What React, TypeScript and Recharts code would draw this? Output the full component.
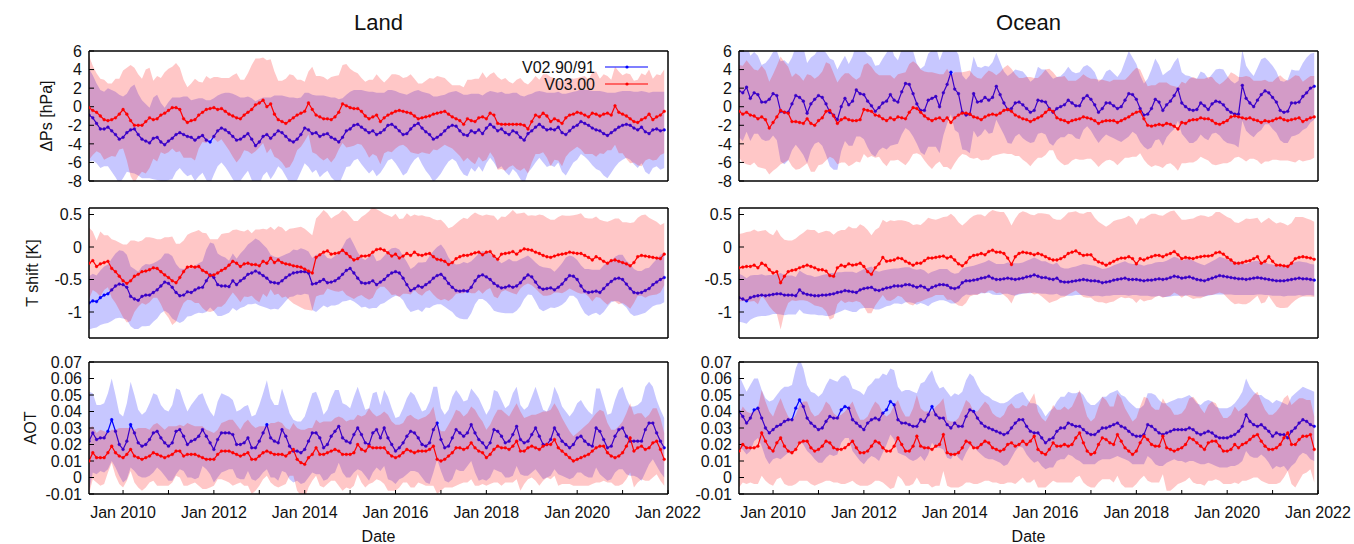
import React from 'react';
import { ComposedChart, Area, Line, XAxis, YAxis } from 'recharts';

// monthly samples, Apr 2009 .. Dec 2021
const START_YEAR = 2009.25;
const END_YEAR = 2022;
const YEAR_TICKS = [2010, 2011, 2012, 2013, 2014, 2015, 2016, 2017, 2018, 2019, 2020, 2021, 2022];

const PS_TICKS = [-8, -6, -4, -2, 0, 2, 4, 6];
const T_TICKS = [-1, -0.5, 0, 0.5];
const AOT_TICKS = [-0.01, 0, 0.01, 0.02, 0.03, 0.04, 0.05, 0.06, 0.07];

// ---- Land, surface pressure offset [hPa]
const landPsV2 = [
  -0.9, -1.2, -1.8, -2.4, -2.4, -2.2, -2.6, -3.0, -3.5,
  -3.3, -2.8, -2.5, -2.4, -3.0, -3.5, -3.7, -3.9, -3.4, -3.3, -3.8, -4.1,
  -3.7, -3.4, -3.0, -2.8, -3.0, -3.2, -3.3, -3.6, -3.3, -3.1, -3.6, -3.8,
  -3.2, -2.6, -2.3, -2.5, -2.8, -3.2, -3.6, -3.5, -3.2, -2.9, -3.5, -4.2,
  -3.8, -3.2, -3.0, -3.4, -3.0, -2.6, -2.8, -3.2, -3.6, -3.8, -3.5, -3.0,
  -2.3, -2.5, -2.9, -2.8, -3.2, -3.0, -2.9, -3.3, -3.5, -3.8, -3.3, -2.6,
  -2.4, -2.0, -1.9, -2.2, -2.5, -2.8, -2.6, -3.0, -2.8, -2.5, -2.0, -1.9,
  -2.2, -2.6, -3.0, -2.9, -2.4, -2.0, -1.8, -2.3, -2.7, -3.0, -3.5, -3.3,
  -3.0, -2.6, -2.2, -2.0, -2.1, -2.6, -3.0, -3.1, -2.6, -2.8, -2.5, -2.9,
  -2.3, -1.9, -2.2, -2.6, -2.4, -2.8, -3.0, -2.6, -2.8, -3.3, -3.6, -2.9,
  -2.6, -2.2, -1.9, -2.2, -2.5, -2.4, -2.5, -2.2, -2.8, -3.0, -2.6, -2.2,
  -2.0, -1.6, -1.8, -2.0, -2.3, -2.5, -2.6, -2.9, -3.1, -2.8, -2.5, -2.2,
  -2.0, -1.9, -2.0, -2.3, -2.5, -2.2, -2.7, -2.9, -2.5, -2.4, -2.6, -2.5,
];
const landPsV2Sd = [
  5.0, 4.6, 4.3, 4.2, 4.0, 4.2, 4.4, 4.6, 4.8,
  4.4, 4.2, 4.6, 4.8, 4.4, 4.2, 4.0, 3.8, 4.4, 4.6, 4.2, 4.0,
  4.2, 4.4, 4.0, 3.8, 4.1, 4.3, 4.0, 4.4, 4.2, 4.0, 4.3, 4.5,
  4.1, 3.8, 3.7, 4.0, 4.3, 4.6, 4.8, 4.5, 4.2, 4.0, 4.4, 4.8,
  4.6, 4.2, 4.0, 4.4, 4.2, 3.8, 4.0, 4.3, 4.6, 4.8, 4.4, 4.0,
  3.8, 4.0, 4.2, 4.0, 4.4, 4.2, 4.0, 4.3, 4.5, 4.6, 4.2, 3.9,
  4.0, 3.8, 3.7, 4.0, 4.2, 4.4, 4.2, 4.5, 4.3, 4.0, 3.8, 3.7,
  3.9, 4.1, 4.4, 4.2, 3.9, 3.7, 3.6, 3.9, 4.2, 4.4, 4.6, 4.4,
  4.2, 3.9, 3.7, 3.6, 3.8, 4.1, 4.3, 4.4, 4.0, 4.2, 3.9, 4.1,
  3.8, 3.6, 3.8, 4.1, 4.0, 4.2, 4.4, 4.1, 4.3, 4.5, 4.7, 4.2,
  4.0, 3.8, 3.6, 3.8, 4.0, 3.9, 4.0, 3.8, 4.2, 4.4, 4.1, 3.8,
  3.7, 3.5, 3.6, 3.8, 4.0, 4.2, 4.3, 4.5, 4.6, 4.3, 4.0, 3.8,
  3.7, 3.6, 3.7, 3.9, 4.1, 3.9, 4.3, 4.4, 4.1, 4.0, 4.2, 4.1,
];
const landPsV3 = [
  -0.1, -0.4, -0.6, -1.0, -1.4, -1.5, -1.4, -1.2, -0.8,
  -0.3, -0.8, -1.5, -2.0, -2.0, -2.0, -1.6, -1.2, -1.4, -1.3, -0.9, -0.7,
  -0.4, -0.1, -0.1, -0.3, -1.3, -1.7, -1.5, -1.4, -0.9, -0.6, -0.3, -0.2,
  -0.1, -0.3, -0.2, -0.5, -0.8, -1.0, -1.2, -1.3, -0.9, -0.6, -0.3, 0.2,
  0.4, 0.7, 0.0, 0.3, -0.8, -1.4, -1.6, -1.8, -1.5, -1.2, -0.9, -0.7,
  -0.5, 0.4, -0.3, -0.9, -1.1, -1.3, -1.3, -1.4, -1.1, -0.6, 0.3, 0.1,
  -0.1, -0.2, -0.2, -0.5, -1.0, -1.3, -1.1, -0.9, -1.6, -1.2, -0.9, -0.7,
  -0.5, -0.4, -0.5, -0.6, -0.7, -1.0, -1.3, -1.2, -1.1, -1.0, -0.8, -0.7,
  -0.6, -0.5, -0.8, -1.1, -1.3, -1.5, -1.9, -1.3, -1.5, -1.6, -1.2, -1.1,
  -1.3, -0.7, -0.9, -1.8, -1.9, -1.9, -1.9, -1.9, -1.9, -1.9, -2.0, -2.4,
  -1.6, -0.9, -1.1, -0.7, -1.0, -1.6, -1.3, -1.5, -1.8, -1.2, -0.9, -0.8,
  -0.6, -0.7, -0.9, -1.1, -0.7, -0.8, -1.0, -0.8, -0.7, -0.9, 0.1, -0.6,
  -0.8, -1.0, -1.3, -1.6, -1.7, -1.4, -1.2, -0.8, -1.4, -1.1, -0.9, -0.5,
];
const landPsV3Sd = [
  5.6, 4.8, 4.2, 4.0, 4.3, 4.0, 3.9, 4.2, 3.8,
  4.2, 5.0, 6.0, 6.2, 5.5, 5.0, 5.6, 5.4, 4.2, 4.6, 4.0, 4.4,
  4.5, 4.4, 4.8, 4.5, 4.2, 3.8, 4.0, 4.4, 3.6, 3.2, 3.6, 3.2,
  3.3, 3.5, 3.3, 3.6, 3.9, 4.4, 4.8, 4.2, 3.8, 4.2, 4.8, 5.0,
  4.8, 4.6, 5.0, 4.8, 4.6, 4.2, 4.4, 4.8, 5.0, 4.6, 3.8, 3.6,
  3.2, 3.4, 4.6, 4.2, 4.4, 4.5, 4.2, 4.6, 4.4, 4.0, 4.2, 4.5,
  4.2, 4.0, 3.8, 3.6, 3.7, 4.2, 4.0, 4.4, 4.6, 3.8, 3.9, 4.2,
  4.0, 3.8, 3.6, 3.8, 4.2, 4.0, 3.8, 3.7, 3.9, 4.1, 3.8, 4.0,
  3.8, 3.6, 3.5, 3.4, 3.6, 3.8, 4.0, 4.2, 4.4, 4.6, 4.2, 4.8,
  4.4, 4.2, 4.6, 5.0, 4.8, 5.0, 4.6, 4.4, 4.8, 5.0, 4.6, 4.8,
  4.4, 4.2, 4.0, 4.2, 4.5, 4.8, 4.4, 4.3, 4.6, 4.2, 4.0, 3.8,
  3.7, 3.9, 4.2, 4.0, 4.4, 4.6, 4.0, 4.3, 4.0, 3.8, 4.2, 4.4,
  4.2, 4.6, 4.8, 4.4, 4.6, 5.0, 4.6, 4.8, 4.4, 4.6, 4.3, 4.5,
];

// ---- Land, temperature shift [K]
const landTV2 = [
  -0.86, -0.83, -0.84, -0.78, -0.74, -0.72, -0.66, -0.60, -0.57,
  -0.58, -0.62, -0.76, -0.80, -0.82, -0.76, -0.74, -0.74, -0.70, -0.66, -0.60, -0.54,
  -0.56, -0.62, -0.70, -0.75, -0.74, -0.69, -0.70, -0.66, -0.63, -0.62, -0.52, -0.43,
  -0.47, -0.58, -0.60, -0.60, -0.61, -0.52, -0.58, -0.52, -0.48, -0.42, -0.40, -0.37,
  -0.40, -0.44, -0.48, -0.54, -0.55, -0.56, -0.52, -0.47, -0.43, -0.40, -0.39, -0.38,
  -0.38, -0.40, -0.57, -0.56, -0.53, -0.50, -0.55, -0.54, -0.52, -0.48, -0.42, -0.36,
  -0.33, -0.40, -0.48, -0.55, -0.56, -0.55, -0.52, -0.58, -0.54, -0.50, -0.44, -0.40,
  -0.38, -0.40, -0.48, -0.58, -0.67, -0.64, -0.60, -0.62, -0.58, -0.54, -0.48, -0.44,
  -0.42, -0.48, -0.56, -0.62, -0.67, -0.68, -0.67, -0.68, -0.62, -0.52, -0.45, -0.43,
  -0.46, -0.50, -0.56, -0.60, -0.63, -0.62, -0.60, -0.62, -0.60, -0.55, -0.48, -0.43,
  -0.46, -0.54, -0.62, -0.65, -0.64, -0.63, -0.66, -0.62, -0.57, -0.50, -0.44, -0.45,
  -0.50, -0.60, -0.68, -0.70, -0.69, -0.68, -0.70, -0.64, -0.58, -0.53, -0.49, -0.48,
  -0.50, -0.57, -0.64, -0.70, -0.71, -0.70, -0.67, -0.64, -0.58, -0.54, -0.50, -0.47,
];
const landTV2Sd = [
  0.41, 0.42, 0.40, 0.42, 0.44, 0.45, 0.48, 0.50, 0.52,
  0.52, 0.50, 0.46, 0.46, 0.44, 0.46, 0.48, 0.47, 0.45, 0.44, 0.42, 0.44,
  0.46, 0.48, 0.44, 0.42, 0.40, 0.38, 0.36, 0.37, 0.38, 0.40, 0.48, 0.50,
  0.52, 0.48, 0.46, 0.44, 0.40, 0.42, 0.40, 0.42, 0.44, 0.46, 0.48, 0.50,
  0.50, 0.48, 0.46, 0.42, 0.40, 0.40, 0.38, 0.36, 0.34, 0.36, 0.34, 0.36,
  0.34, 0.33, 0.40, 0.44, 0.42, 0.40, 0.38, 0.36, 0.38, 0.40, 0.42, 0.47,
  0.48, 0.44, 0.40, 0.38, 0.36, 0.40, 0.42, 0.36, 0.34, 0.36, 0.38, 0.38,
  0.37, 0.36, 0.34, 0.35, 0.33, 0.34, 0.36, 0.38, 0.35, 0.40, 0.42, 0.44,
  0.46, 0.44, 0.40, 0.38, 0.40, 0.42, 0.44, 0.43, 0.40, 0.36, 0.35, 0.37,
  0.38, 0.40, 0.42, 0.40, 0.38, 0.40, 0.42, 0.40, 0.38, 0.36, 0.32, 0.30,
  0.28, 0.30, 0.33, 0.34, 0.32, 0.30, 0.28, 0.30, 0.32, 0.34, 0.31, 0.30,
  0.30, 0.32, 0.34, 0.36, 0.34, 0.33, 0.35, 0.36, 0.34, 0.32, 0.34, 0.36,
  0.38, 0.36, 0.38, 0.36, 0.34, 0.33, 0.34, 0.32, 0.33, 0.35, 0.38, 0.38,
];
const landTV3 = [
  -0.25, -0.21, -0.30, -0.26, -0.24, -0.22, -0.33, -0.38, -0.45,
  -0.52, -0.56, -0.52, -0.45, -0.42, -0.38, -0.37, -0.35, -0.32, -0.33, -0.38, -0.43,
  -0.47, -0.52, -0.55, -0.47, -0.38, -0.31, -0.30, -0.31, -0.30, -0.36, -0.39, -0.44,
  -0.43, -0.40, -0.36, -0.33, -0.28, -0.22, -0.25, -0.30, -0.26, -0.25, -0.27, -0.27,
  -0.29, -0.22, -0.25, -0.17, -0.24, -0.20, -0.24, -0.26, -0.27, -0.29, -0.30, -0.31,
  -0.34, -0.37, -0.40, -0.16, -0.12, -0.08, -0.06, -0.11, -0.10, -0.09, -0.05, -0.10,
  -0.15, -0.20, -0.18, -0.14, -0.14, -0.13, -0.08, -0.04, -0.03, -0.05, -0.09, -0.14,
  -0.11, -0.17, -0.14, -0.10, -0.13, -0.08, -0.12, -0.13, -0.11, -0.10, -0.15, -0.19,
  -0.20, -0.22, -0.27, -0.24, -0.18, -0.15, -0.13, -0.13, -0.11, -0.09, -0.08, -0.12,
  -0.08, -0.07, -0.14, -0.19, -0.11, -0.10, -0.09, -0.07, -0.11, -0.06, -0.03, -0.04,
  -0.05, -0.08, -0.10, -0.13, -0.15, -0.16, -0.14, -0.12, -0.11, -0.10, -0.08, -0.09,
  -0.10, -0.10, -0.13, -0.16, -0.20, -0.15, -0.18, -0.22, -0.25, -0.21, -0.20, -0.22,
  -0.24, -0.26, -0.29, -0.24, -0.15, -0.13, -0.14, -0.15, -0.16, -0.17, -0.18, -0.11,
];
const landTV3Sd = [
  0.55, 0.45, 0.40, 0.50, 0.42, 0.40, 0.45, 0.48, 0.52,
  0.56, 0.60, 0.62, 0.55, 0.50, 0.48, 0.52, 0.50, 0.46, 0.45, 0.50, 0.58,
  0.62, 0.68, 0.60, 0.52, 0.48, 0.50, 0.52, 0.55, 0.56, 0.58, 0.60, 0.56,
  0.55, 0.52, 0.56, 0.54, 0.50, 0.48, 0.52, 0.55, 0.50, 0.52, 0.48, 0.54,
  0.56, 0.50, 0.52, 0.48, 0.50, 0.52, 0.54, 0.50, 0.55, 0.58, 0.60, 0.62,
  0.62, 0.60, 0.58, 0.60, 0.62, 0.65, 0.58, 0.55, 0.58, 0.60, 0.62, 0.64,
  0.62, 0.60, 0.58, 0.60, 0.64, 0.68, 0.70, 0.62, 0.58, 0.56, 0.58, 0.60,
  0.62, 0.60, 0.58, 0.62, 0.60, 0.58, 0.60, 0.62, 0.58, 0.56, 0.58, 0.60,
  0.62, 0.58, 0.56, 0.55, 0.54, 0.56, 0.58, 0.56, 0.60, 0.62, 0.58, 0.60,
  0.58, 0.56, 0.62, 0.60, 0.58, 0.56, 0.60, 0.64, 0.62, 0.58, 0.56, 0.52,
  0.54, 0.56, 0.60, 0.62, 0.60, 0.58, 0.56, 0.58, 0.60, 0.58, 0.56, 0.58,
  0.60, 0.62, 0.58, 0.60, 0.64, 0.62, 0.60, 0.62, 0.64, 0.62, 0.64, 0.66,
  0.62, 0.64, 0.66, 0.62, 0.60, 0.62, 0.64, 0.60, 0.58, 0.56, 0.52, 0.48,
];

// ---- Land, aerosol optical thickness
const landAotV2 = [
  0.022, 0.027, 0.023, 0.024, 0.024, 0.028, 0.035, 0.028, 0.020,
  0.017, 0.022, 0.032, 0.027, 0.021, 0.019, 0.020, 0.023, 0.027, 0.028, 0.024, 0.021,
  0.019, 0.021, 0.028, 0.029, 0.025, 0.020, 0.022, 0.023, 0.025, 0.029, 0.025, 0.021,
  0.017, 0.023, 0.027, 0.027, 0.027, 0.026, 0.020, 0.020, 0.021, 0.024, 0.018, 0.018,
  0.022, 0.027, 0.032, 0.024, 0.022, 0.021, 0.029, 0.025, 0.019, 0.016, 0.016, 0.015,
  0.017, 0.022, 0.027, 0.027, 0.024, 0.018, 0.020, 0.025, 0.028, 0.031, 0.024, 0.022,
  0.021, 0.026, 0.030, 0.026, 0.021, 0.020, 0.027, 0.029, 0.024, 0.030, 0.024, 0.020,
  0.016, 0.018, 0.021, 0.025, 0.028, 0.027, 0.024, 0.020, 0.019, 0.021, 0.029, 0.033,
  0.023, 0.018, 0.019, 0.024, 0.029, 0.027, 0.025, 0.027, 0.032, 0.027, 0.023, 0.021,
  0.018, 0.021, 0.029, 0.028, 0.025, 0.021, 0.022, 0.026, 0.031, 0.023, 0.021, 0.022,
  0.026, 0.030, 0.025, 0.020, 0.020, 0.023, 0.030, 0.026, 0.022, 0.020, 0.018, 0.020,
  0.024, 0.025, 0.022, 0.020, 0.019, 0.030, 0.028, 0.023, 0.018, 0.019, 0.025, 0.029,
  0.030, 0.025, 0.022, 0.022, 0.022, 0.022, 0.029, 0.033, 0.033, 0.027, 0.022, 0.018,
];
const landAotV2Sd = [
  0.030, 0.024, 0.021, 0.020, 0.021, 0.023, 0.025, 0.022, 0.019,
  0.020, 0.023, 0.026, 0.023, 0.020, 0.019, 0.020, 0.022, 0.024, 0.022, 0.020, 0.020,
  0.021, 0.023, 0.026, 0.024, 0.021, 0.020, 0.022, 0.024, 0.025, 0.022, 0.020, 0.019,
  0.020, 0.023, 0.024, 0.023, 0.022, 0.021, 0.020, 0.021, 0.022, 0.020, 0.019, 0.020,
  0.022, 0.024, 0.027, 0.024, 0.022, 0.023, 0.025, 0.022, 0.020, 0.019, 0.018, 0.019,
  0.020, 0.022, 0.024, 0.025, 0.022, 0.020, 0.021, 0.023, 0.025, 0.022, 0.021, 0.022,
  0.021, 0.023, 0.025, 0.022, 0.020, 0.022, 0.024, 0.023, 0.020, 0.023, 0.025, 0.022,
  0.020, 0.019, 0.021, 0.023, 0.024, 0.023, 0.021, 0.020, 0.022, 0.025, 0.026, 0.022,
  0.019, 0.020, 0.022, 0.025, 0.024, 0.023, 0.021, 0.020, 0.022, 0.024, 0.025, 0.022,
  0.020, 0.021, 0.024, 0.024, 0.022, 0.021, 0.022, 0.025, 0.024, 0.021, 0.020, 0.021,
  0.023, 0.025, 0.023, 0.021, 0.020, 0.022, 0.025, 0.024, 0.021, 0.020, 0.019, 0.020,
  0.021, 0.022, 0.021, 0.020, 0.019, 0.024, 0.026, 0.023, 0.020, 0.020, 0.022, 0.024,
  0.025, 0.023, 0.021, 0.021, 0.022, 0.024, 0.026, 0.025, 0.022, 0.020, 0.019, 0.018,
];
const landAotV3 = [
  0.010, 0.015, 0.012, 0.012, 0.012, 0.015, 0.019, 0.015, 0.013,
  0.012, 0.014, 0.017, 0.013, 0.012, 0.011, 0.012, 0.013, 0.015, 0.014, 0.013, 0.012,
  0.013, 0.014, 0.016, 0.016, 0.013, 0.014, 0.014, 0.014, 0.013, 0.012, 0.011, 0.011,
  0.011, 0.014, 0.016, 0.016, 0.016, 0.015, 0.014, 0.013, 0.014, 0.015, 0.011, 0.011,
  0.013, 0.015, 0.016, 0.015, 0.014, 0.014, 0.014, 0.013, 0.015, 0.017, 0.011, 0.009,
  0.008, 0.012, 0.014, 0.018, 0.014, 0.014, 0.015, 0.016, 0.017, 0.016, 0.014, 0.014,
  0.014, 0.015, 0.020, 0.017, 0.016, 0.019, 0.018, 0.018, 0.018, 0.018, 0.015, 0.013,
  0.012, 0.013, 0.015, 0.017, 0.016, 0.015, 0.016, 0.016, 0.016, 0.017, 0.019, 0.011,
  0.010, 0.011, 0.013, 0.015, 0.018, 0.018, 0.017, 0.018, 0.021, 0.018, 0.016, 0.015,
  0.012, 0.014, 0.017, 0.019, 0.018, 0.018, 0.017, 0.019, 0.022, 0.016, 0.016, 0.018,
  0.019, 0.018, 0.017, 0.019, 0.020, 0.020, 0.023, 0.018, 0.016, 0.014, 0.012, 0.010,
  0.011, 0.012, 0.013, 0.014, 0.016, 0.018, 0.019, 0.019, 0.015, 0.013, 0.012, 0.013,
  0.015, 0.019, 0.024, 0.016, 0.018, 0.019, 0.017, 0.018, 0.021, 0.022, 0.017, 0.011,
];
const landAotV3Sd = [
  0.020, 0.016, 0.015, 0.017, 0.016, 0.012, 0.010, 0.014, 0.017,
  0.018, 0.016, 0.013, 0.016, 0.018, 0.019, 0.018, 0.016, 0.017, 0.019, 0.018, 0.017,
  0.018, 0.017, 0.015, 0.016, 0.018, 0.019, 0.018, 0.017, 0.018, 0.019, 0.018, 0.017,
  0.016, 0.015, 0.017, 0.018, 0.019, 0.020, 0.018, 0.016, 0.019, 0.020, 0.021, 0.019,
  0.018, 0.016, 0.015, 0.018, 0.019, 0.020, 0.019, 0.017, 0.014, 0.016, 0.019, 0.020,
  0.021, 0.018, 0.016, 0.017, 0.019, 0.020, 0.019, 0.018, 0.019, 0.021, 0.022, 0.020,
  0.021, 0.020, 0.018, 0.020, 0.022, 0.023, 0.021, 0.019, 0.020, 0.022, 0.023, 0.021,
  0.020, 0.019, 0.018, 0.020, 0.022, 0.021, 0.019, 0.020, 0.021, 0.022, 0.024, 0.021,
  0.018, 0.017, 0.019, 0.021, 0.023, 0.022, 0.020, 0.021, 0.022, 0.023, 0.021, 0.019,
  0.017, 0.018, 0.020, 0.022, 0.023, 0.021, 0.020, 0.022, 0.023, 0.024, 0.020, 0.019,
  0.019, 0.020, 0.022, 0.021, 0.020, 0.021, 0.022, 0.023, 0.020, 0.018, 0.016, 0.015,
  0.016, 0.017, 0.018, 0.019, 0.020, 0.021, 0.022, 0.021, 0.018, 0.016, 0.017, 0.018,
  0.019, 0.020, 0.021, 0.022, 0.021, 0.020, 0.019, 0.020, 0.021, 0.020, 0.019, 0.016,
];

// ---- Ocean, surface pressure offset [hPa]
const oceanPsV2 = [
  1.7, 1.5, 2.1, 0.9, 1.5, 1.3, 0.5, 0.5, 0.8,
  1.4, 1.2, -0.5, -0.6, -0.6, 0.3, 1.2, 1.0, 0.6, -0.7, 0.3, 0.8,
  1.2, 1.0, 0.3, -0.6, -0.9, -1.4, 0.0, 0.9, 0.2, 0.6, 1.8, 1.4,
  1.3, 0.6, 0.1, -0.5, -0.1, 0.4, 0.6, 1.3, 0.7, 0.5, 1.6, 2.5,
  2.4, 1.4, 0.3, -0.4, -0.4, 0.7, 0.9, 1.1, 0.0, 1.5, 2.4, 3.7,
  1.9, 1.4, -0.6, -0.9, -0.8, 1.4, 0.5, 0.6, 1.0, 0.7, 1.0, 2.2,
  1.3, 0.4, -0.3, -0.2, 0.4, 0.5, 0.2, -0.2, -0.6, -0.4, 0.7, 0.6,
  0.5, -0.2, -0.6, -0.2, 0.0, 0.2, 0.7, 0.4, 0.1, 0.1, 0.9, 1.2,
  0.8, 0.2, -0.6, -0.2, 0.4, 0.4, 0.1, -0.2, 0.0, 0.7, 1.4, 1.3,
  0.8, -0.2, -0.9, -0.8, -0.2, 0.8, 0.5, -0.4, 0.2, 0.6, 1.2, 1.9,
  0.4, 0.0, -0.3, -0.4, -0.3, 0.4, 0.1, -0.3, 0.3, 0.6, 0.5, 0.2,
  -0.3, -0.6, -0.8, -0.8, 2.3, 0.9, 0.4, 0.0, 0.7, 1.3, 1.7, 1.5,
  1.0, 0.5, -0.4, -0.6, -0.5, 0.4, 0.4, 0.5, 1.1, 1.5, 2.0, 2.2,
];
const oceanPsV2Sd = [
  5.0, 5.2, 4.8, 4.6, 4.4, 4.2, 4.0, 4.2, 4.4,
  4.5, 4.8, 5.4, 5.6, 5.2, 5.0, 5.3, 5.6, 5.8, 5.4, 5.0, 4.8,
  5.0, 5.2, 5.5, 5.8, 5.9, 5.4, 4.8, 4.6, 4.4, 4.8, 5.0, 4.6,
  4.8, 5.0, 5.2, 4.9, 4.6, 4.8, 5.2, 5.5, 4.8, 4.5, 4.6, 4.8,
  5.0, 4.6, 4.3, 4.5, 4.8, 5.0, 5.2, 5.4, 5.0, 4.6, 4.2, 4.5,
  4.4, 4.2, 4.0, 3.8, 4.2, 4.0, 3.8, 3.6, 3.4, 3.6, 3.8, 3.6,
  3.5, 3.4, 3.6, 3.8, 3.6, 3.4, 3.6, 3.5, 3.3, 3.4, 3.6, 3.4,
  3.5, 3.7, 3.6, 3.4, 3.3, 3.5, 3.6, 3.4, 3.5, 3.6, 3.4, 3.3,
  3.4, 3.5, 3.3, 3.2, 3.4, 3.6, 3.5, 3.4, 3.8, 4.2, 4.6, 4.0,
  3.8, 3.6, 3.4, 3.8, 4.2, 4.4, 4.0, 3.8, 3.5, 3.4, 3.6, 3.4,
  3.3, 3.4, 3.6, 3.5, 3.3, 3.4, 3.5, 3.3, 3.2, 3.4, 3.6, 3.8,
  3.6, 3.4, 3.3, 3.6, 3.8, 3.5, 3.4, 3.3, 3.5, 3.8, 3.6, 3.4,
  3.4, 3.3, 3.2, 3.3, 3.4, 3.6, 3.5, 3.4, 3.6, 3.8, 3.7, 3.6,
];
const oceanPsV3 = [
  -0.5, -0.8, -0.6, -0.9, -1.0, -1.3, -1.1, -1.4, -2.3,
  -1.7, -1.1, -0.4, -0.6, -0.7, -1.6, -1.6, -1.7, -1.8, -1.3, -1.8, -2.0,
  -1.5, -1.2, -0.5, -0.4, -1.0, -1.8, -1.4, -1.2, -1.4, -1.5, -1.5, -1.4,
  -0.3, -0.4, -0.5, -0.9, -1.0, -1.3, -1.5, -1.2, -1.4, -1.1, -1.2, -1.3,
  -0.6, -0.1, -0.2, -0.6, -1.0, -1.3, -1.5, -1.3, -1.2, -1.5, -1.2, -1.7,
  -1.2, -0.9, -0.7, -0.7, -0.8, -1.1, -1.2, -1.4, -1.1, -0.9, -0.8, -0.9,
  -0.7, -0.4, -0.3, -0.5, -0.9, -1.1, -1.3, -1.4, -1.6, -1.4, -1.2, -1.0,
  -0.6, -0.3, -0.5, -1.2, -1.4, -1.5, -1.7, -1.5, -1.4, -1.3, -1.1, -1.2,
  -1.3, -1.5, -1.8, -1.6, -1.5, -1.5, -1.5, -1.7, -1.5, -1.3, -1.1, -0.8,
  -0.6, -0.5, -1.3, -2.0, -2.1, -2.0, -1.9, -2.0, -1.8, -1.9, -2.1, -2.4,
  -1.7, -1.8, -1.5, -1.4, -1.4, -1.2, -1.3, -1.3, -1.5, -1.8, -1.9, -1.7,
  -1.5, -1.1, -1.0, -1.1, -1.2, -1.3, -1.2, -1.4, -1.5, -1.7, -1.5, -1.6,
  -1.5, -1.3, -1.2, -1.4, -1.5, -1.4, -1.3, -1.2, -1.6, -1.4, -1.2, -1.1,
];
const oceanPsV3Sd = [
  5.0, 5.2, 5.6, 5.4, 5.0, 5.2, 5.5, 5.3, 5.0,
  5.2, 5.5, 5.8, 5.4, 5.0, 4.8, 5.2, 5.0, 4.6, 4.8, 5.2, 5.0,
  4.8, 5.0, 5.3, 5.0, 4.6, 4.4, 4.6, 4.8, 5.0, 4.7, 4.4, 4.6,
  4.8, 5.1, 4.8, 4.6, 4.4, 4.7, 4.9, 4.6, 4.4, 4.6, 4.8, 5.0,
  5.2, 5.0, 4.8, 4.6, 4.8, 5.0, 5.2, 4.9, 4.7, 5.0, 5.3, 5.1,
  4.9, 4.6, 4.4, 4.5, 4.7, 4.5, 4.3, 4.4, 4.6, 4.8, 4.5, 4.3,
  4.4, 4.6, 4.8, 4.6, 4.4, 4.2, 4.4, 4.6, 4.8, 4.5, 4.3, 4.5,
  4.6, 4.4, 4.2, 4.4, 4.6, 4.8, 4.5, 4.3, 4.2, 4.4, 4.6, 4.4,
  4.3, 4.5, 4.7, 4.5, 4.3, 4.2, 4.4, 4.6, 4.4, 4.2, 4.4, 4.6,
  4.8, 4.5, 4.4, 4.2, 4.4, 4.3, 4.5, 4.6, 4.4, 4.2, 4.3, 4.5,
  4.4, 4.3, 4.5, 4.6, 4.4, 4.2, 4.3, 4.5, 4.7, 4.5, 4.3, 4.4,
  4.6, 4.8, 4.5, 4.3, 4.4, 4.6, 4.4, 4.2, 4.3, 4.5, 4.4, 4.3,
  4.2, 4.4, 4.6, 4.4, 4.3, 4.5, 4.7, 4.5, 4.3, 4.4, 4.5, 4.4,
];

// ---- Ocean, temperature shift [K]
const oceanTV2 = [
  -0.78, -0.80, -0.83, -0.78, -0.76, -0.75, -0.74, -0.75, -0.74,
  -0.73, -0.72, -0.72, -0.74, -0.74, -0.74, -0.75, -0.66, -0.71, -0.73, -0.74, -0.75,
  -0.75, -0.74, -0.74, -0.73, -0.72, -0.70, -0.69, -0.67, -0.68, -0.69, -0.70, -0.66,
  -0.64, -0.63, -0.62, -0.66, -0.67, -0.65, -0.63, -0.62, -0.60, -0.60, -0.60, -0.58,
  -0.58, -0.60, -0.62, -0.60, -0.62, -0.66, -0.62, -0.60, -0.58, -0.58, -0.59, -0.63,
  -0.64, -0.62, -0.55, -0.52, -0.52, -0.51, -0.50, -0.48, -0.47, -0.45, -0.48, -0.50,
  -0.50, -0.49, -0.48, -0.49, -0.50, -0.49, -0.48, -0.46, -0.45, -0.43, -0.45, -0.47,
  -0.47, -0.49, -0.50, -0.48, -0.53, -0.54, -0.54, -0.53, -0.52, -0.51, -0.50, -0.51,
  -0.52, -0.52, -0.53, -0.55, -0.54, -0.53, -0.51, -0.50, -0.49, -0.48, -0.50, -0.50,
  -0.50, -0.51, -0.52, -0.51, -0.51, -0.50, -0.49, -0.50, -0.49, -0.47, -0.45, -0.46,
  -0.48, -0.47, -0.46, -0.48, -0.50, -0.51, -0.52, -0.50, -0.48, -0.46, -0.44, -0.45,
  -0.46, -0.47, -0.48, -0.49, -0.49, -0.50, -0.49, -0.48, -0.47, -0.48, -0.49, -0.50,
  -0.51, -0.52, -0.52, -0.52, -0.51, -0.50, -0.49, -0.48, -0.49, -0.49, -0.50, -0.51,
];
const oceanTV2Sd = [
  0.37, 0.36, 0.35, 0.34, 0.33, 0.32, 0.32, 0.31, 0.31,
  0.30, 0.31, 0.32, 0.31, 0.30, 0.30, 0.29, 0.30, 0.31, 0.30, 0.30, 0.29,
  0.30, 0.31, 0.32, 0.33, 0.32, 0.31, 0.30, 0.29, 0.30, 0.31, 0.30, 0.29,
  0.30, 0.31, 0.32, 0.30, 0.29, 0.29, 0.28, 0.28, 0.27, 0.27, 0.28, 0.27,
  0.27, 0.26, 0.27, 0.26, 0.26, 0.25, 0.24, 0.24, 0.24, 0.24, 0.25, 0.24,
  0.23, 0.22, 0.22, 0.21, 0.22, 0.22, 0.23, 0.23, 0.24, 0.25, 0.25, 0.24,
  0.24, 0.23, 0.24, 0.25, 0.25, 0.24, 0.24, 0.25, 0.26, 0.27, 0.26, 0.25,
  0.25, 0.24, 0.23, 0.24, 0.22, 0.21, 0.21, 0.22, 0.22, 0.23, 0.24, 0.24,
  0.24, 0.23, 0.22, 0.21, 0.21, 0.22, 0.23, 0.24, 0.25, 0.26, 0.25, 0.24,
  0.24, 0.24, 0.23, 0.24, 0.25, 0.26, 0.26, 0.27, 0.28, 0.29, 0.30, 0.29,
  0.27, 0.28, 0.28, 0.27, 0.26, 0.25, 0.24, 0.25, 0.26, 0.27, 0.29, 0.28,
  0.27, 0.26, 0.26, 0.25, 0.25, 0.24, 0.25, 0.26, 0.26, 0.25, 0.25, 0.24,
  0.24, 0.23, 0.23, 0.24, 0.24, 0.25, 0.26, 0.26, 0.26, 0.25, 0.24, 0.24,
];
const oceanTV3 = [
  -0.32, -0.31, -0.30, -0.30, -0.28, -0.32, -0.25, -0.28, -0.35,
  -0.40, -0.38, -0.55, -0.45, -0.38, -0.36, -0.35, -0.32, -0.30, -0.28, -0.30, -0.32,
  -0.35, -0.35, -0.37, -0.44, -0.45, -0.32, -0.28, -0.30, -0.26, -0.28, -0.27, -0.25,
  -0.30, -0.38, -0.42, -0.32, -0.26, -0.16, -0.22, -0.21, -0.20, -0.17, -0.18, -0.22,
  -0.25, -0.28, -0.25, -0.25, -0.21, -0.17, -0.17, -0.16, -0.15, -0.14, -0.17, -0.15,
  -0.20, -0.26, -0.29, -0.24, -0.16, -0.13, -0.12, -0.10, -0.12, -0.07, -0.05, -0.08,
  -0.08, -0.10, -0.17, -0.27, -0.15, -0.10, -0.08, -0.09, -0.10, -0.12, -0.10, -0.12,
  -0.15, -0.18, -0.20, -0.20, -0.18, -0.15, -0.10, -0.08, -0.06, -0.10, -0.13, -0.12,
  -0.12, -0.19, -0.23, -0.25, -0.28, -0.25, -0.22, -0.19, -0.17, -0.17, -0.15, -0.18,
  -0.26, -0.18, -0.20, -0.17, -0.15, -0.13, -0.13, -0.15, -0.12, -0.10, -0.07, -0.12,
  -0.18, -0.16, -0.17, -0.18, -0.16, -0.15, -0.14, -0.14, -0.13, -0.09, -0.08, -0.11,
  -0.16, -0.20, -0.25, -0.25, -0.24, -0.22, -0.21, -0.18, -0.15, -0.25, -0.22, -0.15,
  -0.22, -0.28, -0.28, -0.29, -0.30, -0.25, -0.18, -0.16, -0.15, -0.16, -0.17, -0.19,
];
const oceanTV3Sd = [
  0.52, 0.52, 0.53, 0.54, 0.55, 0.56, 0.50, 0.54, 0.56,
  0.58, 0.65, 0.72, 0.56, 0.48, 0.46, 0.48, 0.50, 0.52, 0.55, 0.56, 0.58,
  0.56, 0.58, 0.62, 0.68, 0.64, 0.56, 0.54, 0.56, 0.58, 0.57, 0.56, 0.60,
  0.62, 0.64, 0.60, 0.58, 0.56, 0.58, 0.60, 0.62, 0.60, 0.58, 0.59, 0.62,
  0.63, 0.62, 0.60, 0.59, 0.60, 0.62, 0.60, 0.58, 0.59, 0.60, 0.64, 0.66,
  0.66, 0.64, 0.62, 0.62, 0.60, 0.61, 0.62, 0.60, 0.59, 0.60, 0.62, 0.63,
  0.62, 0.64, 0.62, 0.60, 0.59, 0.62, 0.63, 0.62, 0.60, 0.61, 0.62, 0.64,
  0.66, 0.68, 0.64, 0.62, 0.60, 0.62, 0.63, 0.62, 0.61, 0.62, 0.64, 0.66,
  0.66, 0.64, 0.62, 0.60, 0.59, 0.60, 0.62, 0.61, 0.60, 0.62, 0.63, 0.62,
  0.60, 0.62, 0.64, 0.65, 0.66, 0.64, 0.62, 0.63, 0.64, 0.65, 0.63, 0.61,
  0.60, 0.58, 0.60, 0.62, 0.63, 0.64, 0.62, 0.60, 0.61, 0.63, 0.62, 0.61,
  0.62, 0.64, 0.63, 0.62, 0.64, 0.66, 0.64, 0.62, 0.60, 0.62, 0.63, 0.60,
  0.62, 0.64, 0.66, 0.65, 0.63, 0.62, 0.64, 0.62, 0.61, 0.60, 0.59, 0.58,
];

// ---- Ocean, aerosol optical thickness
const oceanAotV2 = [
  0.040, 0.037, 0.033, 0.036, 0.041, 0.042, 0.036, 0.030, 0.027,
  0.029, 0.031, 0.032, 0.034, 0.035, 0.035, 0.042, 0.047, 0.043, 0.036, 0.033, 0.031,
  0.029, 0.030, 0.034, 0.037, 0.036, 0.036, 0.041, 0.043, 0.042, 0.035, 0.033, 0.031,
  0.029, 0.033, 0.035, 0.036, 0.035, 0.039, 0.041, 0.046, 0.044, 0.035, 0.033, 0.033,
  0.032, 0.031, 0.031, 0.035, 0.034, 0.038, 0.043, 0.038, 0.036, 0.036, 0.032, 0.030,
  0.033, 0.031, 0.031, 0.037, 0.041, 0.040, 0.036, 0.033, 0.031, 0.030, 0.029, 0.028,
  0.027, 0.026, 0.027, 0.030, 0.033, 0.035, 0.035, 0.031, 0.028, 0.027, 0.027, 0.024,
  0.021, 0.023, 0.024, 0.028, 0.030, 0.030, 0.033, 0.032, 0.031, 0.031, 0.029, 0.027,
  0.026, 0.026, 0.028, 0.030, 0.030, 0.031, 0.032, 0.033, 0.031, 0.030, 0.028, 0.026,
  0.025, 0.025, 0.026, 0.032, 0.031, 0.029, 0.027, 0.026, 0.027, 0.028, 0.029, 0.029,
  0.029, 0.029, 0.030, 0.029, 0.027, 0.026, 0.027, 0.028, 0.027, 0.025, 0.024, 0.024,
  0.024, 0.025, 0.026, 0.028, 0.031, 0.038, 0.034, 0.032, 0.031, 0.032, 0.030, 0.028,
  0.025, 0.027, 0.026, 0.026, 0.024, 0.028, 0.030, 0.033, 0.035, 0.034, 0.032, 0.031,
];
const oceanAotV2Sd = [
  0.022, 0.020, 0.019, 0.020, 0.019, 0.018, 0.017, 0.018, 0.019,
  0.018, 0.019, 0.021, 0.021, 0.020, 0.021, 0.024, 0.025, 0.023, 0.020, 0.019, 0.020,
  0.020, 0.021, 0.022, 0.023, 0.023, 0.022, 0.020, 0.019, 0.018, 0.019, 0.020, 0.021,
  0.021, 0.022, 0.022, 0.024, 0.025, 0.024, 0.021, 0.020, 0.021, 0.020, 0.019, 0.020,
  0.021, 0.021, 0.020, 0.022, 0.024, 0.024, 0.022, 0.020, 0.018, 0.019, 0.020, 0.019,
  0.018, 0.019, 0.021, 0.022, 0.022, 0.021, 0.020, 0.019, 0.019, 0.019, 0.018, 0.018,
  0.018, 0.019, 0.019, 0.018, 0.017, 0.016, 0.017, 0.017, 0.017, 0.018, 0.017, 0.017,
  0.016, 0.017, 0.018, 0.018, 0.019, 0.019, 0.019, 0.019, 0.020, 0.021, 0.021, 0.019,
  0.018, 0.018, 0.018, 0.019, 0.019, 0.020, 0.020, 0.020, 0.019, 0.019, 0.018, 0.018,
  0.017, 0.017, 0.018, 0.019, 0.020, 0.021, 0.020, 0.019, 0.018, 0.018, 0.018, 0.019,
  0.019, 0.020, 0.020, 0.019, 0.018, 0.018, 0.019, 0.019, 0.019, 0.018, 0.018, 0.018,
  0.018, 0.018, 0.019, 0.020, 0.021, 0.022, 0.021, 0.020, 0.019, 0.018, 0.018, 0.019,
  0.020, 0.020, 0.020, 0.019, 0.020, 0.021, 0.021, 0.020, 0.020, 0.020, 0.021, 0.021,
];
const oceanAotV3 = [
  0.016, 0.020, 0.018, 0.018, 0.018, 0.019, 0.027, 0.022, 0.018,
  0.016, 0.021, 0.024, 0.019, 0.016, 0.015, 0.017, 0.021, 0.022, 0.022, 0.018, 0.016,
  0.017, 0.019, 0.022, 0.021, 0.018, 0.017, 0.017, 0.018, 0.020, 0.022, 0.018, 0.015,
  0.015, 0.016, 0.019, 0.022, 0.021, 0.018, 0.016, 0.016, 0.019, 0.024, 0.020, 0.016,
  0.016, 0.019, 0.025, 0.019, 0.018, 0.018, 0.017, 0.019, 0.020, 0.026, 0.015, 0.014,
  0.014, 0.015, 0.018, 0.022, 0.021, 0.018, 0.018, 0.020, 0.022, 0.021, 0.018, 0.017,
  0.016, 0.017, 0.020, 0.021, 0.019, 0.020, 0.022, 0.020, 0.022, 0.025, 0.017, 0.015,
  0.014, 0.017, 0.021, 0.019, 0.019, 0.020, 0.019, 0.020, 0.024, 0.027, 0.021, 0.016,
  0.014, 0.015, 0.020, 0.024, 0.023, 0.021, 0.020, 0.026, 0.022, 0.018, 0.016, 0.014,
  0.016, 0.021, 0.025, 0.023, 0.020, 0.019, 0.019, 0.025, 0.018, 0.017, 0.016, 0.017,
  0.018, 0.020, 0.024, 0.023, 0.021, 0.019, 0.017, 0.021, 0.022, 0.022, 0.019, 0.016,
  0.016, 0.017, 0.020, 0.018, 0.020, 0.021, 0.023, 0.025, 0.026, 0.022, 0.019, 0.017,
  0.017, 0.018, 0.020, 0.024, 0.027, 0.020, 0.020, 0.023, 0.025, 0.025, 0.026, 0.017,
];
const oceanAotV3Sd = [
  0.022, 0.023, 0.022, 0.021, 0.022, 0.023, 0.026, 0.024, 0.022,
  0.021, 0.022, 0.024, 0.023, 0.021, 0.020, 0.021, 0.023, 0.024, 0.024, 0.022, 0.021,
  0.021, 0.022, 0.024, 0.023, 0.021, 0.020, 0.021, 0.022, 0.023, 0.024, 0.022, 0.020,
  0.020, 0.021, 0.023, 0.024, 0.023, 0.021, 0.021, 0.023, 0.025, 0.023, 0.021, 0.021,
  0.021, 0.023, 0.025, 0.023, 0.022, 0.022, 0.023, 0.024, 0.025, 0.022, 0.020, 0.020,
  0.020, 0.021, 0.023, 0.025, 0.024, 0.022, 0.022, 0.023, 0.024, 0.023, 0.021, 0.020,
  0.020, 0.021, 0.023, 0.024, 0.023, 0.022, 0.022, 0.023, 0.025, 0.026, 0.023, 0.021,
  0.020, 0.021, 0.023, 0.022, 0.022, 0.023, 0.022, 0.023, 0.024, 0.026, 0.024, 0.021,
  0.020, 0.021, 0.023, 0.025, 0.024, 0.022, 0.023, 0.025, 0.026, 0.024, 0.022, 0.020,
  0.020, 0.022, 0.024, 0.025, 0.023, 0.022, 0.022, 0.023, 0.026, 0.025, 0.022, 0.021,
  0.021, 0.022, 0.024, 0.026, 0.025, 0.023, 0.022, 0.023, 0.024, 0.023, 0.021, 0.020,
  0.020, 0.021, 0.023, 0.022, 0.022, 0.023, 0.024, 0.025, 0.026, 0.024, 0.022, 0.021,
  0.021, 0.022, 0.023, 0.024, 0.023, 0.024, 0.026, 0.025, 0.023, 0.022, 0.021, 0.020,
];

const BLUE = '#0000ff';
const RED = '#ff0000';
const FONT = '"Liberation Sans", Arial, Helvetica, sans-serif';
const AXW = 70; // room for y tick labels
const RM = 40; // room for the last date label
const MT = 12; // room above the frame for the top tick label
const frame = { stroke: '#000', strokeWidth: 1.5 };
const tickLine = { stroke: '#000', strokeWidth: 1 };
const tickText = { fill: '#111', fontSize: 16 };

const dateLabel = (v: number) => (v % 2 === 0 ? `Jan ${v}` : '');

type Row = { t: number; v2: number; v2Band: number[]; v3: number; v3Band: number[] };

type LayerProps = {
  data: Row[];
  w: number;
  h: number;
  xh: number;
  mb: number;
  yDomain: [number, number];
  yTicks: number[];
  series: 'v2' | 'v3';
  color: string;
  axes: boolean;
  dates?: boolean;
};

// one series (band + line) drawn in its own svg, so the later series' band
// tints the earlier line the way the original plot layers them
function Layer({ data, w, h, xh, mb, yDomain, yTicks, series, color, axes, dates }: LayerProps) {
  const line = axes ? frame : false;
  const tl = axes ? tickLine : false;
  return (
    <ComposedChart
      width={AXW + w + 1 + RM}
      height={MT + 1 + h + xh + mb}
      data={data}
      margin={{ top: MT, right: RM, bottom: mb, left: 0 }}
      style={{ position: 'absolute', left: 0, top: 0 }}
    >
      <XAxis
        xAxisId="b"
        dataKey="t"
        type="number"
        domain={[START_YEAR, END_YEAR]}
        allowDataOverflow
        ticks={YEAR_TICKS}
        interval={0}
        height={xh}
        tickSize={-4}
        tickMargin={17}
        tickFormatter={dateLabel}
        tick={axes && dates ? tickText : false}
        axisLine={line}
        tickLine={tl}
      />
      <XAxis
        xAxisId="t"
        orientation="top"
        dataKey="t"
        type="number"
        domain={[START_YEAR, END_YEAR]}
        allowDataOverflow
        ticks={YEAR_TICKS}
        interval={0}
        height={1}
        tickSize={-4}
        tick={false}
        axisLine={line}
        tickLine={tl}
      />
      <YAxis
        yAxisId="l"
        type="number"
        domain={yDomain}
        allowDataOverflow
        ticks={yTicks}
        interval={0}
        width={AXW}
        tickSize={-5}
        tickMargin={12}
        tick={axes ? tickText : false}
        axisLine={line}
        tickLine={tl}
      />
      <YAxis
        yAxisId="r"
        orientation="right"
        type="number"
        domain={yDomain}
        allowDataOverflow
        ticks={yTicks}
        interval={0}
        width={1}
        tickSize={-5}
        tick={false}
        axisLine={line}
        tickLine={tl}
      />
      <Area
        xAxisId="b"
        yAxisId="l"
        type="linear"
        dataKey={`${series}Band`}
        stroke="none"
        fill={color}
        fillOpacity={0.22}
        dot={false}
        activeDot={false}
        isAnimationActive={false}
      />
      <Line
        xAxisId="b"
        yAxisId="l"
        type="linear"
        dataKey={series}
        stroke={color}
        strokeWidth={1.2}
        dot={{ r: 1.4, fill: color, stroke: color, strokeWidth: 0.4 }}
        activeDot={false}
        isAnimationActive={false}
      />
    </ComposedChart>
  );
}

type PanelProps = {
  x: number;
  y: number;
  w: number;
  h: number;
  v2: number[];
  v2Sd: number[];
  v3: number[];
  v3Sd: number[];
  yDomain: [number, number];
  yTicks: number[];
  dates?: boolean;
};

function Panel({ x, y, w, h, v2, v2Sd, v3, v3Sd, yDomain, yTicks, dates }: PanelProps) {
  const data: Row[] = v2.map((b, i) => ({
    t: START_YEAR + i / 12,
    v2: b,
    v2Band: [b - v2Sd[i], b + v2Sd[i]],
    v3: v3[i],
    v3Band: [v3[i] - v3Sd[i], v3[i] + v3Sd[i]],
  }));
  const xh = dates ? 30 : 1;
  const mb = dates ? 0 : 12;
  const common = { data, w, h, xh, mb, yDomain, yTicks, dates };

  return (
    <div style={{ position: 'absolute', left: x - AXW, top: y - 1 - MT }}>
      <Layer {...common} series="v2" color={BLUE} axes={false} />
      <Layer {...common} series="v3" color={RED} axes />
    </div>
  );
}

const LAND_X = 89;
const OCEAN_X = 739;
const PANEL_W = 579;

export default function App() {
  return (
    <div
      style={{
        position: 'absolute',
        left: 0,
        top: 0,
        width: 1354,
        height: 544,
        background: '#fff',
        fontFamily: FONT,
        overflow: 'hidden',
      }}
    >
      <Panel x={LAND_X} y={51} w={PANEL_W} h={130} v2={landPsV2} v2Sd={landPsV2Sd} v3={landPsV3} v3Sd={landPsV3Sd} yDomain={[-8, 6]} yTicks={PS_TICKS} />
      <Panel x={LAND_X} y={208} w={PANEL_W} h={130} v2={landTV2} v2Sd={landTV2Sd} v3={landTV3} v3Sd={landTV3Sd} yDomain={[-1.4, 0.6]} yTicks={T_TICKS} />
      <Panel x={LAND_X} y={362} w={PANEL_W} h={132} v2={landAotV2} v2Sd={landAotV2Sd} v3={landAotV3} v3Sd={landAotV3Sd} yDomain={[-0.01, 0.07]} yTicks={AOT_TICKS} dates />
      <Panel x={OCEAN_X} y={51} w={PANEL_W} h={130} v2={oceanPsV2} v2Sd={oceanPsV2Sd} v3={oceanPsV3} v3Sd={oceanPsV3Sd} yDomain={[-8, 6]} yTicks={PS_TICKS} />
      <Panel x={OCEAN_X} y={208} w={PANEL_W} h={130} v2={oceanTV2} v2Sd={oceanTV2Sd} v3={oceanTV3} v3Sd={oceanTV3Sd} yDomain={[-1.4, 0.6]} yTicks={T_TICKS} />
      <Panel x={OCEAN_X} y={362} w={PANEL_W} h={132} v2={oceanAotV2} v2Sd={oceanAotV2Sd} v3={oceanAotV3} v3Sd={oceanAotV3Sd} yDomain={[-0.01, 0.07]} yTicks={AOT_TICKS} dates />

      {/* titles, axis labels and the key */}
      <svg width={1354} height={544} style={{ position: 'absolute', left: 0, top: 0, pointerEvents: 'none' }}>
        <text x={378.5} y={22} textAnchor="middle" dominantBaseline="central" fontSize={22} fill="#111">Land</text>
        <text x={1028.5} y={22} textAnchor="middle" dominantBaseline="central" fontSize={22} fill="#111">Ocean</text>

        <text x={46} y={116} transform="rotate(-90 46 116)" textAnchor="middle" dominantBaseline="central" fontSize={16} fill="#111">ΔPs [hPa]</text>
        <text x={32} y={273} transform="rotate(-90 32 273)" textAnchor="middle" dominantBaseline="central" fontSize={16} fill="#111">T shift [K]</text>
        <text x={30} y={428} transform="rotate(-90 30 428)" textAnchor="middle" dominantBaseline="central" fontSize={16} fill="#111">AOT</text>

        <text x={378.5} y={536} textAnchor="middle" dominantBaseline="central" fontSize={16} fill="#111">Date</text>
        <text x={1028.5} y={536} textAnchor="middle" dominantBaseline="central" fontSize={16} fill="#111">Date</text>

        <text x={595} y={67} textAnchor="end" dominantBaseline="central" fontSize={16} fill="#111">V02.90/91</text>
        <line x1={605} y1={67} x2={648} y2={67} stroke={BLUE} strokeWidth={1.2} />
        <circle cx={627} cy={67} r={1.6} fill={BLUE} />
        <text x={595} y={84} textAnchor="end" dominantBaseline="central" fontSize={16} fill="#111">V03.00</text>
        <line x1={605} y1={84} x2={648} y2={84} stroke={RED} strokeWidth={1.2} />
        <circle cx={627} cy={84} r={1.6} fill={RED} />
      </svg>
    </div>
  );
}
